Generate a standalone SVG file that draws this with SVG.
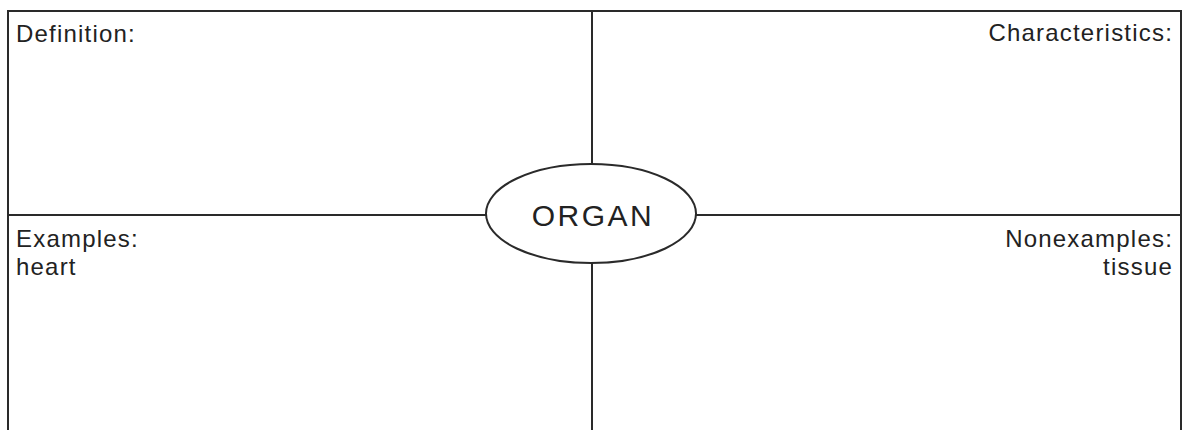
<svg xmlns="http://www.w3.org/2000/svg" width="1186" height="430" viewBox="0 0 1186 430">
<style>
.ln{stroke:#2a2a2a;stroke-width:2;fill:none}
.t{font-family:"Liberation Sans",Arial,sans-serif;font-size:24px;letter-spacing:1.2px;fill:#222}
.r{text-anchor:end}
.c{text-anchor:middle}
</style>
<rect width="1186" height="430" fill="#fff"/>
<g id="connectors">
<path class="ln" d="M8 430 V11 H1181 V430"/>
<line class="ln" x1="592" y1="11" x2="592" y2="164"/>
<line class="ln" x1="592" y1="263" x2="592" y2="430"/>
<line class="ln" x1="8" y1="215" x2="487" y2="215"/>
<line class="ln" x1="696" y1="215" x2="1181" y2="215"/>
</g>
<g id="definition"><text class="t" x="16" y="42">Definition:</text></g>
<g id="characteristics"><text class="t r" x="1173" y="41">Characteristics:</text></g>
<g id="organ">
<ellipse class="ln" cx="591" cy="213.5" rx="105" ry="49.5"/>
<text class="t c" x="593" y="226" style="font-size:30px;letter-spacing:2.5px">ORGAN</text>
</g>
<g id="examples"><text class="t" x="16" y="247">Examples:</text><text class="t" x="16" y="275">heart</text></g>
<g id="nonexamples"><text class="t r" x="1173" y="247">Nonexamples:</text><text class="t r" x="1173" y="275">tissue</text></g>
</svg>
